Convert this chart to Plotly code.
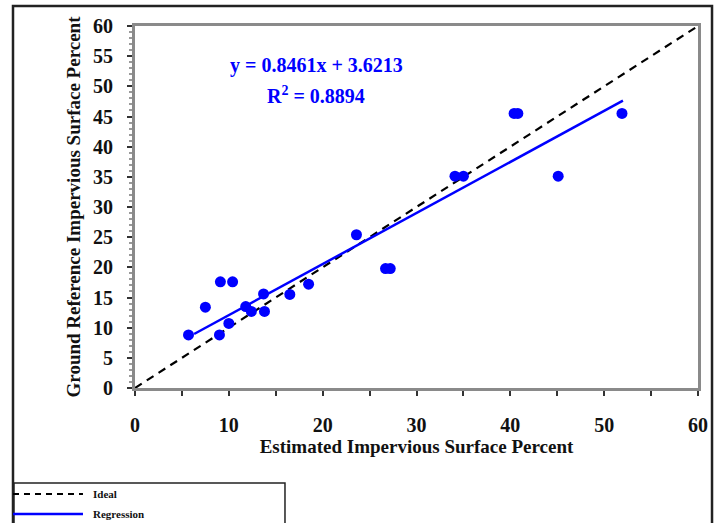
import plotly.graph_objects as go

# ---- data ----
est_x = [5.7, 7.5, 9.0, 9.1, 10.4, 10.0, 11.8, 12.4, 13.7, 13.8, 16.5, 18.5,
         23.6, 26.7, 27.2, 34.1, 35.0, 40.4, 40.8, 45.1, 51.9]
ref_y = [8.8, 13.4, 8.8, 17.6, 17.6, 10.7, 13.5, 12.7, 15.6, 12.7, 15.5, 17.2,
         25.4, 19.8, 19.8, 35.1, 35.1, 45.5, 45.5, 35.1, 45.5]

ideal_x = [0, 60]
ideal_y = [0, 60]

slope = 0.8461
intercept = 3.6213
r2 = 0.8894
reg_x = [6.3, 52.0]
reg_y = [slope * v + intercept for v in reg_x]

x_ticks = [0, 10, 20, 30, 40, 50, 60]
y_ticks = [0, 5, 10, 15, 20, 25, 30, 35, 40, 45, 50, 55, 60]

SERIF = "Liberation Serif"
BLUE = "#0000FF"

fig = go.Figure()
fig.add_trace(go.Scatter(x=ideal_x, y=ideal_y, mode="lines", name="Ideal",
                         line=dict(color="black", width=2.2, dash="8px,6px")))
fig.add_trace(go.Scatter(x=reg_x, y=reg_y, mode="lines", name="Regression",
                         line=dict(color=BLUE, width=2.5)))
fig.add_trace(go.Scatter(x=est_x, y=ref_y, mode="markers", name="Samples",
                         marker=dict(color=BLUE, size=11, line=dict(width=0))))

axis_common = dict(
    showgrid=False, zeroline=False, showline=True, linecolor="#8a8a8a",
    linewidth=3, mirror=True, ticks="outside", ticklen=5, tickwidth=1.5,
    tickcolor="#333",
    tickfont=dict(family=SERIF, size=20, color="#111", weight="bold"),
)

fig.update_xaxes(range=[0, 60], tickvals=x_ticks, ticktext=[str(v) for v in x_ticks],
                 ticklabelstandoff=12,
                 minor=dict(dtick=5, ticks="outside", ticklen=5, tickcolor="#333"),
                 title=dict(text="Estimated Impervious Surface Percent",
                            font=dict(family=SERIF, size=19, color="#111", weight="bold"),
                            standoff=4),
                 **axis_common)
fig.update_yaxes(range=[0, 60], tickvals=y_ticks, ticktext=[str(v) for v in y_ticks],
                 ticklabelstandoff=10,
                 minor=dict(dtick=1, ticks="outside", ticklen=3, tickcolor="#999"),
                 title=dict(text="Ground Reference Impervious Surface Percent",
                            font=dict(family=SERIF, size=19, color="#111", weight="bold"),
                            standoff=8),
                 **axis_common)

# regression equation
fig.add_annotation(x=19.3, y=53.5, xref="x", yref="y", showarrow=False,
                   text="y = %.4fx + %.4f" % (slope, intercept),
                   font=dict(family=SERIF, size=20, color=BLUE, weight="bold"))
fig.add_annotation(x=19.3, y=48.6, xref="x", yref="y", showarrow=False,
                   text="R<sup>2</sup> = %.4f" % r2,
                   font=dict(family=SERIF, size=20, color=BLUE, weight="bold"))

# outer frame
fig.add_shape(type="rect", xref="paper", yref="paper", x0=-0.2167, x1=1.0249,
              y0=-0.40, y1=1.0552, line=dict(color="#222", width=2.5), layer="below")

# legend box drawn at the bottom-left (as in the reference)
fig.add_shape(type="rect", xref="paper", yref="paper", x0=-0.2149, x1=0.2664,
              y0=-0.40, y1=-0.2624, line=dict(color="#222", width=1.5),
              fillcolor="white")
fig.add_shape(type="line", xref="paper", yref="paper", x0=-0.2167, x1=-0.0924,
              y0=-0.2928, y1=-0.2928, line=dict(color="black", width=2, dash="6px,5px"))
fig.add_shape(type="line", xref="paper", yref="paper", x0=-0.2167, x1=-0.0924,
              y0=-0.348, y1=-0.348, line=dict(color=BLUE, width=2.5))
fig.add_annotation(x=-0.0782, y=-0.2928, xref="paper", yref="paper", showarrow=False,
                   xanchor="left", yanchor="middle", text="Ideal",
                   font=dict(family=SERIF, size=11, color="#111", weight="bold"))
fig.add_annotation(x=-0.0782, y=-0.348, xref="paper", yref="paper", showarrow=False,
                   xanchor="left", yanchor="middle", text="Regression",
                   font=dict(family=SERIF, size=11, color="#111", weight="bold"))

fig.update_layout(
    width=721, height=523,
    margin=dict(l=135, r=23, t=26, b=135),
    paper_bgcolor="white", plot_bgcolor="white",
    showlegend=False,
)

fig.write_html("out.html",
               config={"displayModeBar": False},
               post_script="document.body.style.margin='0';"
                           "document.body.style.overflow='hidden';")
